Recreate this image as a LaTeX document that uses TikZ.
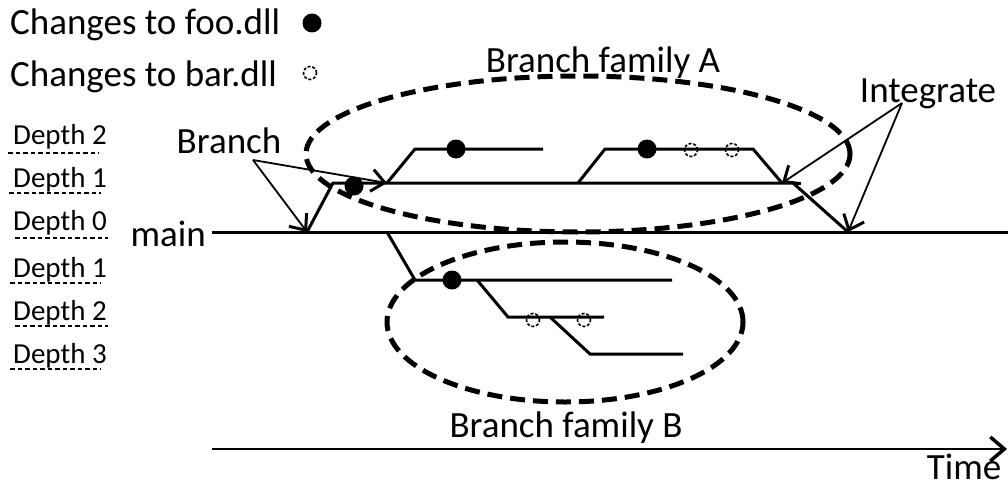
\documentclass[tikz,border=0pt]{standalone}
\usepackage{fontspec}
\setmainfont{Carlito}
\usetikzlibrary{positioning}
\usetikzlibrary{arrows.meta}
\tikzset{
    mytext/.style = {inner sep=0pt, font=\fontsize{37}{40}\selectfont, text=black},
    mydepth/.style = {inner sep=0pt, anchor=base west, font=\fontsize{29}{32}\selectfont, text=black},
    mydot/.style = {circle, fill=black, inner sep=0pt, minimum size=19pt},
    mydotd/.style = {circle, draw=black, line width=1.6pt, dash pattern=on 3pt off 1.8pt, inner sep=0pt, minimum size=13pt},
    edgen/.style = {-, line width=3pt, black},
    edgea/.style = {-{Straight Barb[length=13pt,width=22pt,line width=3pt]}, line width=1.8pt, black},
    edget/.style = {-{Straight Barb[length=14pt,width=24pt,line width=3.5pt]}, line width=2.6pt, black},
    edgeu/.style = {-, line width=1.4pt, black, dash pattern=on 4.5pt off 3pt}, % underline
    edgef/.style = {line width=5pt, black, dash pattern=on 15pt off 8pt} % family
}
\begin{document}
\begin{tikzpicture}[x=1pt, y=-1pt]
  \useasboundingbox (0,0) rectangle (1008,487);
  % legend
  \node[mytext, anchor=base west] (lfoo) at (10,35) {Changes to foo.dll};
  \node[mydot] (dfoo) at (312,23) {};
  \node[mytext, anchor=base west] (lbar) at (10,86) {Changes to bar.dll};
  \node[mydotd] (dbar) at (310,73) {};
  % depths
  \node[mydepth] (d2a) at (13,144) {Depth 2};
  \node[mydepth] (d1a) at (13,187) {Depth 1};
  \node[mydepth] (d0) at (13,230) {Depth 0};
  \node[mydepth] (d1b) at (13,277) {Depth 1};
  \node[mydepth] (d2b) at (13,320) {Depth 2};
  \node[mydepth] (d3b) at (13,363) {Depth 3};
  \draw[edgeu] ([shift={(-5pt,-9pt)}]d2a.base west) -- ([shift={(-8pt,-9pt)}]d2a.base east);
  \draw[edgeu] ([shift={(-4pt,-6pt)}]d1a.base west) -- ([shift={(-6pt,-6pt)}]d1a.base east);
  \draw[edgeu] ([shift={(2pt,-8pt)}]d0.base west) -- ([shift={(1pt,-8pt)}]d0.base east);
  \draw[edgeu] ([shift={(-3pt,-6pt)}]d1b.base west) -- ([shift={(-6pt,-6pt)}]d1b.base east);
  \draw[edgeu] ([shift={(2pt,-6pt)}]d2b.base west) -- ([shift={(1pt,-6pt)}]d2b.base east);
  \draw[edgeu] ([shift={(-3pt,-6pt)}]d3b.base west) -- ([shift={(-6pt,-6pt)}]d3b.base east);
  % main
  \node[mytext, anchor=base east] (main) at (206,246) {main};
  \coordinate (m0) at (212,232);
  \coordinate (m1) at (1008,232);
  \draw[edgen] (m0) -- (m1);
  % family A
  \coordinate (a0) at (307,232);
  \coordinate (a1) at (333,183);
  \coordinate (a2) at (387,183);
  \coordinate (a3) at (415,149);
  \coordinate (a4) at (543,149);
  \coordinate (a5) at (578,183);
  \coordinate (a6) at (605,149);
  \coordinate (a7) at (753,149);
  \coordinate (a8) at (782,183);
  \coordinate (a9) at (793,183);
  \coordinate (a10) at (848,232);
  \draw[edgen] (a0) -- (a1) -- (a9) -- (a10);
  \draw[edgen] (a2) -- (a3) -- (a4);
  \draw[edgen] (a5) -- (a6) -- (a7) -- (a8);
  \node[mydot] (fa1) at (354,186) {};
  \node[mydot] (fa2) at (456,149) {};
  \node[mydot] (fa3) at (647,149) {};
  \node[mydotd] (ba1) at (691,150) {};
  \node[mydotd] (ba2) at (732,150) {};
  % family B
  \coordinate (b0) at (387,232);
  \coordinate (b1) at (415,280);
  \coordinate (b2) at (672,280);
  \coordinate (b3) at (477,280);
  \coordinate (b4) at (508,317);
  \coordinate (b5) at (604,317);
  \coordinate (b6) at (550,317);
  \coordinate (b7) at (590,354);
  \coordinate (b8) at (683,354);
  \draw[edgen] (b0) -- (b1) -- (b2);
  \draw[edgen] (b3) -- (b4) -- (b5);
  \draw[edgen] (b6) -- (b7) -- (b8);
  \node[mydot] (fb1) at (452,280) {};
  \node[mydotd] (bb1) at (533,320) {};
  \node[mydotd] (bb2) at (584,320) {};
  % families
  \draw[edgef] (578,154) ellipse [x radius=272pt, y radius=78pt];
  \draw[edgef] (565,322) ellipse [x radius=178pt, y radius=80pt];
  \node[mytext, anchor=base] (fama) at (603,72) {Branch family A};
  \node[mytext, anchor=base] (famb) at (566,437) {Branch family B};
  % branch / integrate
  \node[mytext, anchor=base] (br) at (229,153) {Branch};
  \coordinate (brs) at (253,160);
  \draw[edgea] (brs) -- (a0);
  \draw[edgea] (brs) -- (a2);
  \node[mytext, anchor=base] (ig) at (928,102) {Integrate};
  \coordinate (igs) at (902,103);
  \draw[edgea] (igs) -- (a8);
  \draw[edgea] (igs) -- (a10);
  % time
  \coordinate (t0) at (212,449);
  \coordinate (t1) at (1007,449);
  \draw[edget] (t0) -- (t1);
  \node[mytext, anchor=base] (tm) at (964,479) {Time};
\end{tikzpicture}
\end{document}
